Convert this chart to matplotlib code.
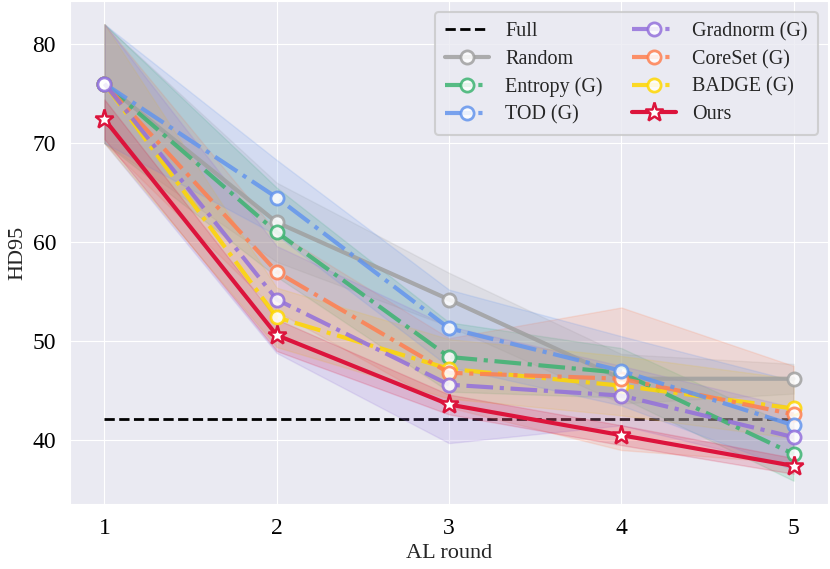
import matplotlib
matplotlib.use('Agg')
import matplotlib.pyplot as plt
import numpy as np
import seaborn as sns

sns.set_style('darkgrid')
plt.rcParams['font.family'] = ['Liberation Serif', 'DejaVu Serif']
plt.rcParams['xtick.major.size'] = 5
plt.rcParams['ytick.major.size'] = 5
plt.rcParams['xtick.color'] = 'black'
plt.rcParams['ytick.color'] = 'black'

rounds = [1, 2, 3, 4, 5]
full_value = 42.1

methods = ['Random', 'Entropy (G)', 'TOD (G)', 'Gradnorm (G)', 'CoreSet (G)', 'BADGE (G)', 'Ours']
random_mean = [76.0, 62.0, 54.2, 46.2, 46.2]
random_std = [6.0, 4.0, 2.7, 2.5, 1.5]
entropy_mean = [76.0, 61.0, 48.4, 46.8, 38.6]
entropy_std = [6.0, 4.5, 3.5, 2.5, 2.7]
tod_mean = [76.0, 64.5, 51.3, 47.0, 41.5]
tod_std = [6.0, 3.8, 3.9, 3.5, 4.5]
gradnorm_mean = [76.0, 54.2, 45.6, 44.5, 40.3]
gradnorm_std = [6.0, 5.4, 5.9, 3.0, 3.0]
coreset_mean = [76.0, 57.0, 46.8, 46.2, 42.6]
coreset_std = [6.0, 4.0, 3.5, 7.2, 4.9]
badge_mean = [76.0, 52.4, 47.2, 45.5, 43.2]
badge_std = [6.0, 3.0, 3.0, 3.0, 3.0]
ours_mean = [72.4, 50.6, 43.6, 40.5, 37.4]
ours_std = [2.0, 1.6, 1.0, 1.0, 0.8]

means = dict(zip(methods, [random_mean, entropy_mean, tod_mean, gradnorm_mean,
                           coreset_mean, badge_mean, ours_mean]))
stds = dict(zip(methods, [random_std, entropy_std, tod_std, gradnorm_std,
                          coreset_std, badge_std, ours_std]))
colors = dict(zip(methods, ['#a0a0a0', '#3cb371', '#6495ed', '#9370db',
                            '#ff7f50', '#ffd700', '#dc143c']))

# drawing order (which marker ends up on top), legend keeps the methods order
draw_order = ['Random', 'Entropy (G)', 'BADGE (G)', 'CoreSet (G)', 'TOD (G)', 'Gradnorm (G)', 'Ours']

fig, ax = plt.subplots(figsize=(8.3, 5.69), dpi=100)
fig.subplots_adjust(left=70 / 830, right=828 / 830, top=1 - 1 / 569, bottom=1 - 504 / 569)

full_line, = ax.plot([rounds[0], rounds[-1]], [full_value, full_value], '--', color='black',
                     lw=2, label='Full', zorder=2)

handles = {}
for z, name in enumerate(draw_order):
    m = np.array(means[name])
    s = np.array(stds[name])
    c = colors[name]
    ax.fill_between(rounds, m - s, m + s, color=c, alpha=0.17, zorder=3)
    if name == 'Ours':
        h, = ax.plot(rounds, m, '-', color=c, lw=3, marker='*', markersize=14,
                     markerfacecolor='white', markeredgewidth=1.8, markeredgecolor=c,
                     label=name, zorder=6)
    else:
        ls = '-' if name == 'Random' else '-.'
        h, = ax.plot(rounds, m, ls, color=c, lw=3, alpha=0.85, marker='o', markersize=9.5,
                     markerfacecolor='white', markeredgewidth=2, markeredgecolor=c,
                     label=name, zorder=4 + z * 0.1)
    handles[name] = h

ax.set_xlim(0.8, 5.2)
ax.set_ylim(33.55, 84.35)
ax.set_xticks(rounds)
ax.set_yticks([40, 50, 60, 70, 80])
ax.tick_params(labelsize=17, pad=5)
ax.set_xlabel('AL round', fontsize=16)
ax.set_ylabel('HD95', fontsize=16)
leg = ax.legend([full_line] + [handles[n] for n in methods], ['Full'] + methods,
                loc='upper right', ncol=2, fontsize=14.5, frameon=True, handlelength=2.2,
                columnspacing=1.45, borderpad=0.5, labelspacing=0.42, borderaxespad=0,
                bbox_to_anchor=((818 - 70) / 758, 1 - 11 / 503))
leg.get_frame().set_edgecolor('#c8c8c8')
leg.get_frame().set_linewidth(1.5)

plt.savefig('out.png', dpi=100)
